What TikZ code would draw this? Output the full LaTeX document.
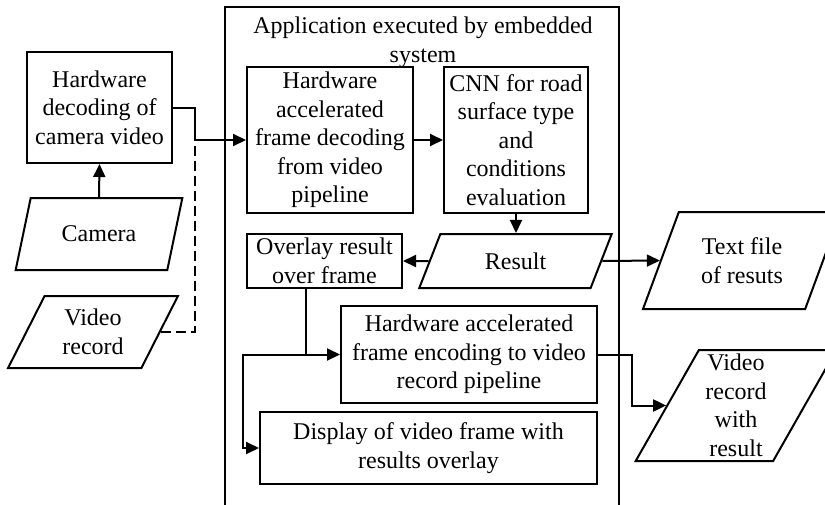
\documentclass[tikz,border=0pt]{standalone}
\usepackage{fontspec}
\setmainfont{Liberation Serif}
\usetikzlibrary{shapes.geometric,arrows.meta}
\begin{document}
\begin{tikzpicture}[x=1pt,y=-1pt,
  every node/.style={font=\fontsize{24}{28.5}\selectfont, align=center, inner sep=0pt},
  box/.style={draw, line width=2pt, rectangle},
  io/.style={draw, line width=2pt, trapezium, trapezium left angle=63, trapezium right angle=117, trapezium stretches=true},
  arr/.style={line width=2pt, -{Triangle[length=13pt,width=12pt]}},
  dashline/.style={line width=2pt, dash pattern=on 10pt off 5pt}
]
\useasboundingbox (0,0) rectangle (825,504);
\clip (0,0) rectangle (825,504);
% outer frame
\node[box, minimum width=394pt, minimum height=510pt] (outer) at (422,262) {};
\node (title) at (423,42.5) {Application executed by embedded\\system};
% left side
\node[box, minimum width=145pt, minimum height=111pt] (hwdec) at (99.5,107.5) {Hardware\\decoding of\\camera video};
\node[io, minimum width=168pt, minimum height=72pt] (camera) at (99,234) {Camera};
\node[io, minimum width=170pt, minimum height=72pt] (vrec) at (93,332) {Video\\record};
% inner boxes
\node[box, minimum width=166pt, minimum height=146pt] (hwacc) at (330,140) {Hardware\\accelerated\\frame decoding\\from video\\pipeline};
\node[box, minimum width=144pt, minimum height=146pt] (cnn) at (516,140) {CNN for road\\surface type\\and\\conditions\\evaluation};
\node[io, minimum width=193pt, minimum height=54pt] (result) at (515.5,261) {Result};
\node[box, minimum width=155pt, minimum height=54pt] (overlay) at (324.5,261) {Overlay result\\over frame};
\node[box, minimum width=256pt, minimum height=97pt] (enc) at (469,354.5) {Hardware accelerated\\frame encoding to video\\record pipeline};
\node[box, minimum width=337pt, minimum height=72pt] (disp) at (428.5,448) {Display of video frame with\\results overlay};
% outputs
\node[io, minimum width=198pt, minimum height=97pt] (tfile) at (742,260.5) {Text file\\of resuts};
\node[io, minimum width=201pt, minimum height=111pt] (vres) at (736,405.5) {Video\\record\\with\\result};
% junctions
\coordinate (j1) at (195,140);
\coordinate (j2) at (306,354.5);
\coordinate (j3) at (243,354.5);
\coordinate (j4) at (632,354.5);
% connectors
\draw[arr] (camera.north) -- (hwdec.south);
\draw[arr] (hwdec.east) -| (j1) -- (hwacc.west);
\draw[dashline] (vrec.east) -| (j1);
\draw[arr] (hwacc.east) -- (cnn.west);
\draw[arr] (cnn.south) -- (cnn.south |- result.north);
\draw[arr] (result.west) -- (overlay.east);
\draw[arr] (result.east) -- (tfile.west);
\draw[arr] (overlay.south -| j2) -- (j2) -- (enc.west);
\draw[arr] (j2) -- (j3) |- (disp.west);
\draw[arr] (enc.east) -- (j4) |- (vres.west);
\end{tikzpicture}
\end{document}
